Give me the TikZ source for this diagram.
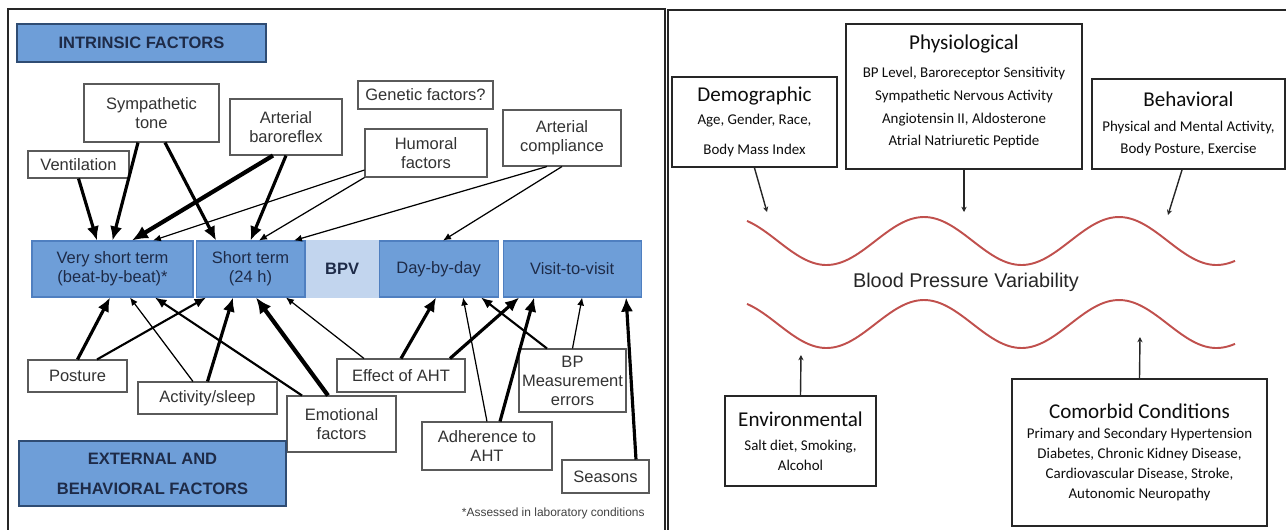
\documentclass[tikz,border=0pt]{standalone}
\usepackage{fontspec}
\setmainfont{Liberation Sans}
\newfontfamily\calfont{Carlito}
\usepackage{tikz}
\usetikzlibrary{arrows.meta, positioning}
\definecolor{barblue}{HTML}{6E9ED8}
\definecolor{barline}{HTML}{4F7FC0}
\definecolor{bpvblue}{HTML}{C2D5EE}
\definecolor{navytext}{HTML}{1E2B48}
\definecolor{wavered}{HTML}{C0504D}
\definecolor{boxgrey}{HTML}{5A5A5A}
\newcommand{\grptitle}[1]{{\fontsize{12}{13}\selectfont #1}}

\begin{document}
\begin{tikzpicture}[x=0.02cm, y=-0.02cm, semithick,
  factor/.style={draw=boxgrey, line width=0.6pt, fill=white, text=black!80, align=center, inner sep=1pt, font=\fontsize{9.4}{10.8}\selectfont},
  term/.style={draw=barline, line width=0.6pt, fill=barblue, text=navytext, align=center, minimum height=1.12cm, inner sep=1pt, font=\fontsize{9.4}{10.8}\selectfont},
  heading/.style={draw=barline!60!black, line width=0.8pt, fill=barblue, text=navytext, align=center, font=\bfseries\fontsize{9.4}{11}\selectfont},
  group/.style={draw=black!85, line width=1.1pt, fill=white, text=black!95, align=center, inner sep=2pt, font=\calfont\fontsize{8.5}{13}\selectfont},
  thinar/.style={line width=0.7pt, -{Latex[length=4.5pt,width=4pt]}},
  medar/.style={line width=1.2pt, -{Latex[length=6.5pt,width=5.5pt]}},
  thickar/.style={line width=1.8pt, -{Latex[length=8pt,width=7pt]}},
  vthickar/.style={line width=2.4pt, -{Latex[length=9pt,width=8pt]}},
  smallar/.style={line width=0.8pt, black!85, -{Stealth[length=3pt,width=3pt]}},
  wave/.style={wavered, line width=1.1pt}]
\useasboundingbox (0,0) rectangle (1286,529);

% frames of the two panels
\draw[line width=1.2pt, black!85] (665,540) -- (665,9) -- (8,9) -- (8,540);
\draw[line width=1.2pt, black!85] (668,540) -- (668,10) -- (1290,10);

% left panel: intrinsic factors
\node[heading, minimum width=4.98cm, minimum height=0.76cm] (intrinsic) at (141.5,43) {INTRINSIC FACTORS};
\node[factor, minimum width=2.7cm, minimum height=1.16cm] (symp) at (151.5,113) {Sympathetic\\tone};
\node[factor, minimum width=2.24cm, minimum height=1.12cm] (baro) at (286,127) {Arterial\\baroreflex};
\node[factor, minimum width=2.02cm, minimum height=0.54cm] (vent) at (78.5,164.5) {Ventilation};
\node[factor, minimum width=2.7cm, minimum height=0.56cm] (genetic) at (425.5,95) {Genetic factors?};
\node[factor, minimum width=2.44cm, minimum height=0.96cm] (humoral) at (426,153) {Humoral\\factors};
\node[factor, minimum width=2.36cm, minimum height=1.12cm] (compliance) at (562,138) {Arterial\\compliance};

% the BPV bar
\node[term, minimum width=3.22cm] (vshort) at (112.5,269) {Very short term\\(beat-by-beat)*};
\node[term, minimum width=2.18cm] (short) [right=0.04cm of vshort] {Short term\\(24 h)};
\node[term, draw=bpvblue, fill=bpvblue, minimum width=1.44cm, font=\bfseries\fontsize{9.4}{10.8}\selectfont] (bpv) [right=0pt of short] {BPV};
\node[term, minimum width=2.38cm] (daily) [right=0pt of bpv] {Day-by-day};
\node[term, minimum width=2.76cm] (visit) [right=0.08cm of daily] {Visit-to-visit};

% external and behavioral factors
\node[factor, minimum width=1.98cm, minimum height=0.64cm] (posture) at (77.5,376) {Posture};
\node[factor, minimum width=2.78cm, minimum height=0.64cm] (activity) at (207.5,398) {Activity/sleep};
\node[factor, minimum width=2.18cm, minimum height=1.12cm] (emotional) at (341.5,424) {Emotional\\factors};
\node[heading, minimum width=5.34cm, minimum height=1.3cm] (external) at (152.5,473.5) {EXTERNAL AND\\[6pt]BEHAVIORAL FACTORS};
\node[factor, minimum width=2.56cm, minimum height=0.66cm] (effect) at (401,375.5) {Effect of AHT};
\node[factor, minimum width=2.14cm, minimum height=1.26cm] (bperrors) at (572.5,380.5) {BP\\Measurement\\errors};
\node[factor, minimum width=2.6cm, minimum height=0.96cm] (adherence) at (487,446) {Adherence to\\AHT};
\node[factor, minimum width=1.74cm, minimum height=0.66cm] (seasons) at (605.5,476.5) {Seasons};
\node[anchor=east, font=\fontsize{6.8}{8}\selectfont, text=black!75] (note) at (651,513) {*Assessed in laboratory conditions};

% arrows into the bar from above
\draw[thickar] (vent.south) -- ([xshift=-0.31cm]vshort.north);
\draw[thickar] ([xshift=-0.27cm]symp.south) -- (vshort.north);
\draw[thickar] ([xshift=0.27cm]symp.south) -- ([xshift=-0.69cm]short.north);
\draw[vthickar] ([xshift=-0.26cm]baro.south) -- ([xshift=0.39cm]vshort.north);
\draw[thickar] (baro.south) -- (short.north);
\draw[thinar] ([yshift=-0.34cm]humoral.west) -- ([xshift=0.81cm]vshort.north);
\draw[thinar] (humoral.south west) -- ([xshift=0.17cm]short.north);
\draw[thinar] ([xshift=-0.3cm]compliance.south) -- ([xshift=0.87cm]short.north);
\draw[thinar] (compliance.south) -- ([xshift=0.09cm]daily.north);

% arrows into the bar from below
\draw[thickar] (posture.north) -- ([xshift=-0.05cm]vshort.south);
\draw[medar] ([xshift=0.39cm]posture.north) -- ([xshift=-0.89cm]short.south);
\draw[thinar] ([xshift=-0.29cm]activity.north) -- ([xshift=0.35cm]vshort.south);
\draw[thickar] (activity.north) -- ([xshift=-0.35cm]short.south);
\draw[medar] ([xshift=-0.79cm]emotional.north) -- ([xshift=0.85cm]vshort.south);
\draw[vthickar] ([xshift=-0.27cm]emotional.north) -- ([xshift=0.11cm]short.south);
\draw[thinar] ([xshift=-0.74cm]effect.north) -- ([xshift=0.71cm]short.south);
\draw[thickar] (effect.north) -- ([xshift=-0.05cm]daily.south);
\draw[thickar] ([xshift=0.98cm]effect.north) -- ([xshift=-1.06cm]visit.south);
\draw[thinar] (adherence.north) -- ([xshift=0.49cm]daily.south);
\draw[thickar] ([xshift=0.26cm]adherence.north) -- ([xshift=-0.76cm]visit.south);
\draw[medar] ([xshift=-0.51cm]bperrors.north) -- ([xshift=0.85cm]daily.south);
\draw[thinar] (bperrors.north) -- ([xshift=0.2cm]visit.south);
\draw[thickar] ([xshift=0.61cm]seasons.north) -- ([xshift=1.08cm]visit.south);

% right panel
\draw[wave] plot[domain=747:1235, samples=150, smooth] (\x, {241-24*cos((\x-924)/195*360)});
\draw[wave] plot[domain=747:1235, samples=150, smooth] (\x, {324-24*cos((\x-924)/195*360)});
\node[font=\fontsize{11.3}{13}\selectfont, text=black!85] (bpvtext) at (966,282) {Blood Pressure Variability};

\node[group, minimum width=3.3cm, minimum height=1.8cm] (demographic) at (754.5,122) {\grptitle{Demographic}\\Age, Gender, Race,\\[4pt]Body Mass Index};
\node[group, minimum width=4.72cm, minimum height=2.9cm] (physiological) at (964,96.5) {\grptitle{Physiological}\\[3pt]BP Level, Baroreceptor Sensitivity\\Sympathetic Nervous Activity\\Angiotensin II, Aldosterone\\Atrial Natriuretic Peptide\\[-6pt]};
\node[group, minimum width=3.86cm, minimum height=1.8cm] (behavioral) at (1188.5,124) {\grptitle{Behavioral}\\[1pt]Physical and Mental Activity,\\Body Posture, Exercise};
\node[group, minimum width=3.02cm, minimum height=1.8cm, font=\calfont\fontsize{8.5}{11.5}\selectfont] (environmental) at (800.5,441) {\grptitle{Environmental}\\[2pt]Salt diet, Smoking,\\Alcohol};
\node[group, minimum width=5.1cm, minimum height=2.94cm, font=\calfont\fontsize{8.5}{11.3}\selectfont] (comorbid) at (1139.5,452.5) {\grptitle{Comorbid Conditions}\\Primary and Secondary Hypertension\\Diabetes, Chronic Kidney Disease,\\Cardiovascular Disease, Stroke,\\Autonomic Neuropathy};

\coordinate (wdemo) at (767,212);
\coordinate (wphysio) at (964,212);
\coordinate (wbehav) at (1168,215);
\coordinate (wenv) at (801,355);
\coordinate (wcomorb) at (1140,337);
\draw[smallar] (demographic.south) -- (wdemo);
\draw[smallar] (physiological.south) -- (wphysio);
\draw[smallar] ([xshift=-0.13cm]behavioral.south) -- (wbehav);
\draw[smallar] (environmental.north) -- (wenv);
\draw[smallar] (comorbid.north) -- (wcomorb);
\end{tikzpicture}
\end{document}
